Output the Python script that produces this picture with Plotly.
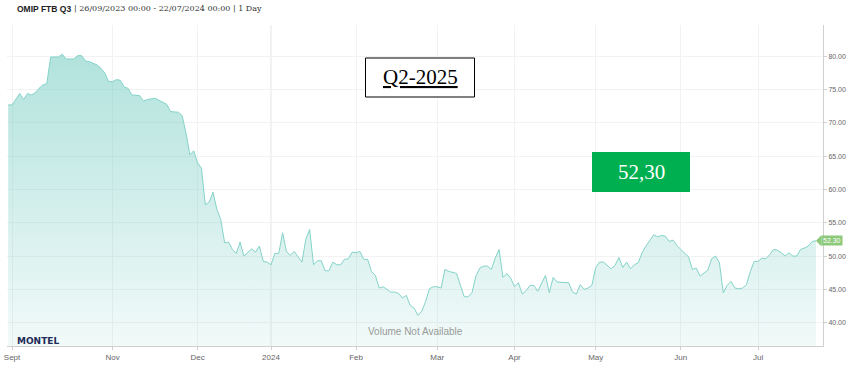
import pandas as pd
import plotly.graph_objects as go

# ---------------- data ----------------
title_bold = "OMIP FTB Q3"
title_rest = "| 26/09/2023 00:00 - 22/07/2024 00:00 | 1 Day"

holidays = ["2023-12-25", "2023-12-26", "2024-01-01", "2024-03-29", "2024-04-01", "2024-05-01"]

dates = [
    "2023-09-25", "2023-09-26", "2023-09-28", "2023-09-29", "2023-10-02", "2023-10-03", "2023-10-04",
    "2023-10-05", "2023-10-06", "2023-10-09", "2023-10-10", "2023-10-12", "2023-10-13", "2023-10-16",
    "2023-10-18", "2023-10-19", "2023-10-20", "2023-10-23", "2023-10-24", "2023-10-26", "2023-10-27",
    "2023-10-30", "2023-10-31", "2023-11-01", "2023-11-02", "2023-11-03", "2023-11-06", "2023-11-07",
    "2023-11-08", "2023-11-10", "2023-11-13", "2023-11-14", "2023-11-16", "2023-11-17", "2023-11-21",
    "2023-11-22", "2023-11-24", "2023-11-27", "2023-11-28", "2023-11-29", "2023-11-30", "2023-12-01",
    "2023-12-04", "2023-12-05", "2023-12-06", "2023-12-07", "2023-12-08", "2023-12-11", "2023-12-12",
    "2023-12-13", "2023-12-14", "2023-12-15", "2023-12-18", "2023-12-19", "2023-12-20", "2023-12-21",
    "2023-12-22", "2023-12-27", "2023-12-28", "2023-12-29", "2024-01-02", "2024-01-03", "2024-01-04",
    "2024-01-05", "2024-01-08", "2024-01-09", "2024-01-10", "2024-01-12", "2024-01-15", "2024-01-16",
    "2024-01-17", "2024-01-18", "2024-01-19", "2024-01-22", "2024-01-23", "2024-01-24", "2024-01-25",
    "2024-01-26", "2024-01-29", "2024-01-30", "2024-01-31", "2024-02-01", "2024-02-02", "2024-02-05",
    "2024-02-06", "2024-02-07", "2024-02-08", "2024-02-09", "2024-02-12", "2024-02-13", "2024-02-14",
    "2024-02-15", "2024-02-16", "2024-02-19", "2024-02-20", "2024-02-21", "2024-02-22", "2024-02-23",
    "2024-02-26", "2024-02-27", "2024-02-28", "2024-02-29", "2024-03-01", "2024-03-04", "2024-03-05",
    "2024-03-06", "2024-03-08", "2024-03-11", "2024-03-12", "2024-03-13", "2024-03-14", "2024-03-15",
    "2024-03-18", "2024-03-19", "2024-03-20", "2024-03-21", "2024-03-22", "2024-03-25", "2024-03-26",
    "2024-03-27", "2024-03-28", "2024-04-02", "2024-04-03", "2024-04-04", "2024-04-05", "2024-04-08",
    "2024-04-09", "2024-04-10", "2024-04-11", "2024-04-12", "2024-04-15", "2024-04-16", "2024-04-17",
    "2024-04-19", "2024-04-22", "2024-04-23", "2024-04-24", "2024-04-25", "2024-04-26", "2024-04-29",
    "2024-04-30", "2024-05-02", "2024-05-03", "2024-05-06", "2024-05-07", "2024-05-08", "2024-05-09",
    "2024-05-10", "2024-05-13", "2024-05-14", "2024-05-15", "2024-05-16", "2024-05-17", "2024-05-20",
    "2024-05-21", "2024-05-22", "2024-05-23", "2024-05-24", "2024-05-27", "2024-05-28", "2024-05-29",
    "2024-05-30", "2024-05-31", "2024-06-03", "2024-06-04", "2024-06-05", "2024-06-06", "2024-06-07",
    "2024-06-10", "2024-06-11", "2024-06-12", "2024-06-13", "2024-06-14", "2024-06-17", "2024-06-18",
    "2024-06-19", "2024-06-20", "2024-06-21", "2024-06-24", "2024-06-25", "2024-06-26", "2024-06-27",
    "2024-06-28", "2024-07-01", "2024-07-02", "2024-07-03", "2024-07-04", "2024-07-05", "2024-07-08",
    "2024-07-09", "2024-07-10", "2024-07-11", "2024-07-12", "2024-07-15", "2024-07-16", "2024-07-17",
    "2024-07-18", "2024-07-19", "2024-07-22",
]

prices = [
    72.7, 72.7, 74.4, 73.5, 74.4, 74.2, 74.5,
    75.2, 75.7, 75.9, 79.9, 79.9, 80.3, 79.6,
    79.6, 80.1, 80.1, 79.3, 79.2, 78.7, 78.2,
    77.5, 76.2, 76.2, 76.5, 76.4, 75.4, 75.2,
    74.2, 74.1, 73.3, 73.5, 73.7, 73.4, 72.8,
    71.7, 71.6, 71.1, 68.5, 65.2, 65.8, 64.0,
    63.2, 57.7, 58.1, 59.6, 57.0, 55.5, 52.0,
    52.1, 51.0, 50.4, 52.1, 50.0, 50.5, 51.1,
    50.6, 51.5, 49.2, 49.1, 48.7, 50.4, 50.4,
    53.5, 50.7, 50.1, 50.7, 49.1, 52.5, 54.0,
    48.7, 49.3, 49.3, 47.8, 47.8, 49.1, 48.7,
    48.7, 49.5, 49.6, 50.6, 50.5, 50.7, 49.5,
    49.5, 47.7, 47.1, 45.2, 45.4, 45.0, 44.6,
    44.6, 44.4, 43.7, 44.1, 42.6, 42.2, 41.1,
    41.7, 43.2, 45.1, 45.4, 45.4, 45.2, 48.0,
    47.7, 47.4, 45.6, 43.9, 43.9, 44.5, 47.0,
    48.2, 48.5, 48.5, 48.0, 49.7, 51.0, 46.8,
    47.4, 46.7, 45.4, 46.0, 44.3, 44.8, 45.6,
    45.6, 44.7, 45.9, 47.1, 44.5, 46.8, 46.1,
    46.1, 46.0, 44.6, 44.3, 45.7, 45.0, 45.2,
    45.6, 48.3, 49.1, 49.1, 48.6, 48.1, 48.6,
    49.8, 48.3, 49.1, 48.1, 48.7, 49.0, 50.5,
    51.5, 52.4, 53.2, 52.9, 53.1, 53.0, 52.2,
    52.4, 51.6, 51.0, 50.5, 49.9, 48.0, 48.2,
    47.0, 47.5, 47.9, 49.6, 50.0, 49.0, 44.5,
    45.6, 46.2, 45.2, 45.1, 45.2, 45.7, 47.7,
    49.2, 49.2, 49.7, 49.6, 50.2, 51.0, 50.9,
    50.5, 50.0, 50.5, 50.0, 50.0, 51.0, 51.2,
    51.5, 52.2, 52.3,
]

tick_dates = ["2023-09-26", "2023-11-01", "2023-12-01", "2024-01-02", "2024-02-01",
              "2024-03-01", "2024-04-02", "2024-05-02", "2024-06-03", "2024-07-01"]
tick_labels = ["Sept", "Nov", "Dec", "2024", "Feb", "Mar", "Apr", "May", "Jun", "Jul"]
year_tick = "2024-01-02"

y_ticks = [40, 45, 50, 55, 60, 65, 70, 75, 80]
last_price = 52.30
last_label = "52.30"
box_label = "Q2-2025"
box_value = "52,30"
volume_note = "Volume Not Available"
logo = "MONTEL"

# ---------------- ordinal (trading-day) scale ----------------
cal = pd.bdate_range("2023-09-25", "2024-07-31")
cal = cal[~cal.isin(pd.to_datetime(holidays))]
pos = {d.strftime("%Y-%m-%d"): i for i, d in enumerate(cal)}
x = [pos[d] for d in dates]
tickvals = [pos[d] for d in tick_dates]

# pixel helpers for layout placement (plot area 7..823 x 25..346)
L, R, T, B = 7, 823, 25, 346
def px(xp):
    return (xp - L) / (R - L)
def py(yp):
    return (B - yp) / (B - T)

fig = go.Figure()
fig.add_trace(go.Scatter(
    x=x, y=prices, mode="lines",
    line=dict(color="#84d3c9", width=1),
    fill="tozeroy",
    fillgradient=dict(type="vertical", start=36.5, stop=81,
                      colorscale=[[0, "rgba(120,205,195,0.10)"], [1, "rgba(120,205,195,0.58)"]]),
    hoverinfo="skip", showlegend=False,
))

fig.update_layout(
    width=853, height=380,
    margin=dict(l=L, r=853 - R, t=T, b=380 - B, autoexpand=False),
    paper_bgcolor="white", plot_bgcolor="white",
    showlegend=False,
    xaxis=dict(
        range=[-0.3, 210.8], tickmode="array", tickvals=tickvals, ticktext=tick_labels,
        showgrid=True, gridcolor="#f2f2f2", gridwidth=1,
        showline=True, linecolor="#d0d0d0", linewidth=1,
        ticks="outside", ticklen=3, tickcolor="#d0d0d0",
        tickfont=dict(family="Liberation Sans, Arial, sans-serif", size=8, color="#666666"),
        zeroline=False, fixedrange=True, automargin=False,
    ),
    yaxis=dict(
        side="right", range=[36.5, 84.7], tickmode="array", tickvals=y_ticks,
        tickformat=".2f",
        showgrid=True, gridcolor="#f2f2f2", gridwidth=1,
        showline=True, linecolor="#d0d0d0", linewidth=1,
        ticks="outside", ticklen=3, tickcolor="#d0d0d0",
        tickfont=dict(family="Liberation Sans, Arial, sans-serif", size=7, color="#666666"),
        zeroline=False, fixedrange=True, automargin=False,
    ),
)

shapes = []
# year boundary line
shapes.append(dict(type="line", xref="x", yref="paper", x0=pos[year_tick], x1=pos[year_tick],
                   y0=0, y1=1, line=dict(color="#e2e2e2", width=1), layer="below"))
# Q2-2025 box
shapes.append(dict(type="rect", xref="paper", yref="paper",
                   x0=px(365.5), x1=px(474.5), y0=py(97), y1=py(58),
                   line=dict(color="black", width=1), fillcolor="white"))
# green value box
shapes.append(dict(type="rect", xref="paper", yref="paper",
                   x0=px(592), x1=px(690), y0=py(192), y1=py(152),
                   line=dict(color="#00b050", width=0), fillcolor="#00b050"))
# last price flag pointer
shapes.append(dict(type="path", xref="paper", yref="y",
                   path=f"M {px(821.5)} {last_price + 0.85} L {px(816)} {last_price} L {px(821.5)} {last_price - 0.85} Z",
                   fillcolor="#8cc97a", line=dict(width=0)))
fig.update_layout(shapes=shapes)

annotations = [
    dict(xref="paper", yref="paper", x=px(15), y=py(8.5), xanchor="left", yanchor="middle",
         text=f"<b>{title_bold}</b>", showarrow=False,
         font=dict(family="Liberation Sans, Arial, sans-serif", size=8.5, color="#222222")),
    dict(xref="paper", yref="paper", x=px(72), y=py(8.5), xanchor="left", yanchor="middle",
         text=title_rest, showarrow=False,
         font=dict(family="DejaVu Serif, Liberation Serif, serif", size=8, color="#333333")),
    dict(xref="paper", yref="paper", x=px(420), y=py(77), xanchor="center", yanchor="middle",
         text=f"<u>{box_label}</u>", showarrow=False,
         font=dict(family="Liberation Serif, serif", size=21, color="black")),
    dict(xref="paper", yref="paper", x=px(641), y=py(172), xanchor="center", yanchor="middle",
         text=box_value, showarrow=False,
         font=dict(family="Liberation Serif, serif", size=21, color="white")),
    dict(xref="paper", yref="y", x=px(821), y=last_price, xanchor="left", yanchor="middle",
         text=last_label, showarrow=False, bgcolor="#8cc97a", borderpad=1,
         font=dict(family="Liberation Sans, Arial, sans-serif", size=7, color="white")),
    dict(xref="paper", yref="paper", x=px(15), y=py(340.5), xanchor="left", yanchor="middle",
         text=f"<b>{logo}</b>", showarrow=False,
         font=dict(family="DejaVu Sans, Verdana, sans-serif", size=9, color="#1f2b58")),
    dict(xref="paper", yref="paper", x=px(415), y=py(331), xanchor="center", yanchor="middle",
         text=volume_note, showarrow=False,
         font=dict(family="Liberation Sans, Arial, sans-serif", size=10, color="#999999")),
]
fig.update_layout(annotations=annotations)

# the page is photographed at exactly the figure size: drop the browser's default body margin
fig.write_html("out.html", config={"displayModeBar": False},
               post_script="document.body.style.margin='0px';")
